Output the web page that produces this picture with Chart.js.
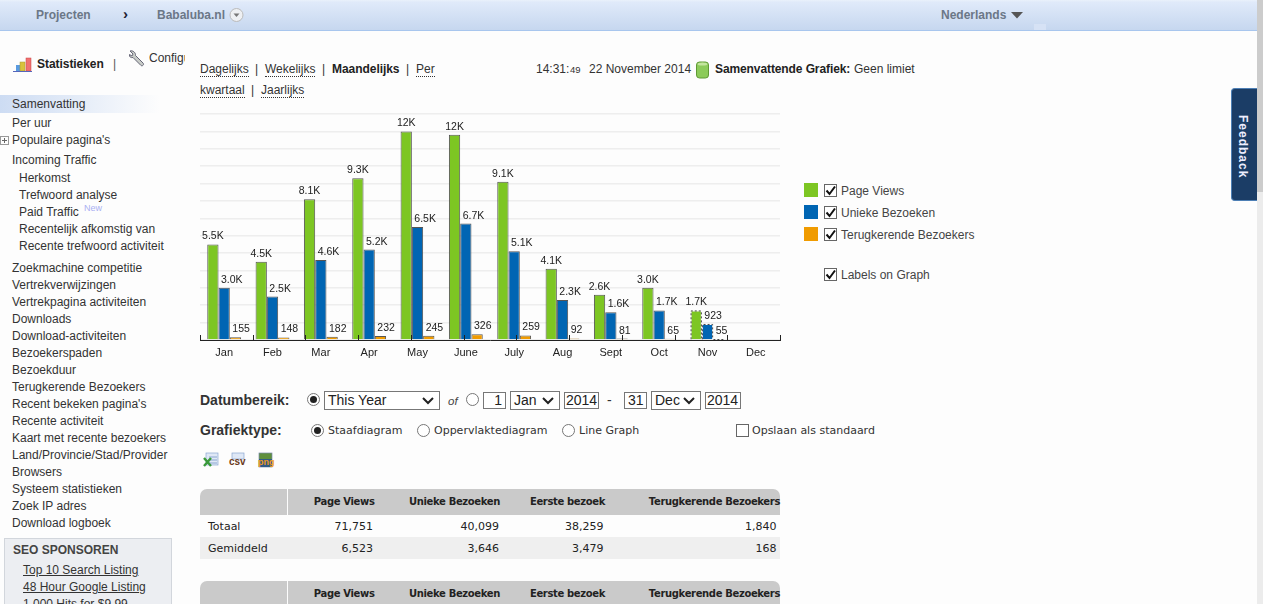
<!DOCTYPE html>
<html lang="nl"><head><meta charset="utf-8"><title>Statistieken</title>
<script src="https://cdn.jsdelivr.net/npm/chart.js@4/dist/chart.umd.js"></script>
<style>
html,body{margin:0;padding:0;width:1263px;height:604px;overflow:hidden;background:#fdfdfd;font-family:"Liberation Sans",Arial,sans-serif;color:#333}
#ui div,#ui span.a{position:absolute}
.t{position:absolute;white-space:nowrap;line-height:14px;font-size:12px;color:#333}
.box{position:absolute;box-sizing:border-box;border:1px solid #777;background:#fff}
.radio{position:absolute;box-sizing:border-box;width:13px;height:13px;border:1px solid #777;border-radius:50%;background:#fff}
.radio.on::after{content:"";position:absolute;left:2px;top:2px;width:7px;height:7px;border-radius:50%;background:#222}
.lnk{border-bottom:1px dotted #333}
#chart{position:absolute;left:190px;top:100px}
svg{position:absolute;overflow:visible}
</style></head><body>
<div id="ui"></div>
<canvas id="chart" width="600" height="265" style="width:600px;height:265px"></canvas>
<script>
// ---- chart data ----
const months = ["Jan","Feb","Mar","Apr","May","June","July","Aug","Sept","Oct","Nov","Dec"];
const pageViews = [5500,4500,8100,9300,12000,11800,9100,4100,2600,3000,1700,null];
const uniqueVisitors = [3000,2500,4600,5200,6500,6700,5100,2300,1600,1700,923,null];
const returningVisitors = [155,148,182,232,245,326,259,92,81,65,55,null];
const seriesNames = ["Page Views","Unieke Bezoeken","Terugkerende Bezoekers"];
const seriesColors = ["#7dc623","#0065b3","#f09b00"];
const currentMonth = 10;
// ---- table data ----
const tableHeads = ["Page Views","Unieke Bezoeken","Eerste bezoek","Terugkerende Bezoekers"];
const totals = ["71,751","40,099","38,259","1,840"];
const averages = ["6,523","3,646","3,479","168"];
const sideMenu = ["Samenvatting","Per uur","Populaire pagina's","Incoming Traffic","Herkomst","Trefwoord analyse","Paid Traffic","Recentelijk afkomstig van","Recente trefwoord activiteit","Zoekmachine competitie","Vertrekverwijzingen","Vertrekpagina activiteiten","Downloads","Download-activiteiten","Bezoekerspaden","Bezoekduur","Terugkerende Bezoekers","Recent bekeken pagina's","Recente activiteit","Kaart met recente bezoekers","Land/Provincie/Stad/Provider","Browsers","Systeem statistieken","Zoek IP adres","Download logboek"];

// ---- page furniture ----
const ui = document.getElementById('ui');
function rect(x,y,w,h,css){const d=document.createElement('div');d.style.cssText=`left:${x}px;top:${y}px;width:${w}px;height:${h}px;${css||''}`;ui.appendChild(d);return d;}
function t(x,cy,s,css){const d=document.createElement('div');d.className='t';d.textContent=s;d.style.cssText=`left:${x}px;top:${cy-7}px;${css||''}`;ui.appendChild(d);return d;}
function tr(rx,cy,s,css){const d=document.createElement('div');d.className='t';d.textContent=s;d.style.cssText=`right:${1263-rx}px;top:${cy-7}px;${css||''}`;ui.appendChild(d);return d;}
function svg(x,y,w,h,inner){const d=document.createElement('div');d.style.cssText=`left:${x}px;top:${y}px;width:${w}px;height:${h}px`;d.innerHTML=`<svg width="${w}" height="${h}" viewBox="0 0 ${w} ${h}">${inner}</svg>`;ui.appendChild(d);}
function box(x,y,w,h,s,align,pad){const d=rect(x,y,w,h,'');d.className='box';d.style.cssText+=`;font-size:14px;line-height:${h-2}px;color:#222;padding:0 ${pad==null?3:pad}px;text-align:${align||'left'}`;d.textContent=s;return d;}
function select(x,y,w,h,s){box(x,y,w,h,s);svg(x+w-18,y+6,12,8,'<path d="M1 1 L6 6 L11 1" fill="none" stroke="#222" stroke-width="2"/>');}
function radio(cx,cy,on){const d=rect(cx-6.5,cy-6.5,13,13,'');d.className='radio'+(on?' on':'');d.style.width='13px';d.style.height='13px';}
function check(x,y,on){const d=rect(x,y,13,13,'');d.className='box';d.style.borderColor='#666';if(on)svg(x+1,y+1,11,11,'<path d="M1.5 5.5 L4.5 9 L10 1.5" fill="none" stroke="#111" stroke-width="2"/>');}

// header
rect(0,0,1257,30,'background:linear-gradient(#eaf1fb 0,#e0eafa 7%,#c6d7ef 100%);border-bottom:1px solid #a8c6ee');
rect(1034,24,12,6,'background:#d6e2f5');
const hdr='font-weight:bold;color:#6b7787;font-size:12px';
t(36,15,'Projecten',hdr);
t(123,14,'›',"font-weight:bold;color:#223;font-size:15px");
t(157,15,'Babaluba.nl',hdr);
svg(229,7,16,16,'<circle cx="7.5" cy="8" r="6.5" fill="#eef0f3" stroke="#bbb"/><path d="M4.5 6.5 L10.5 6.5 L7.5 10 Z" fill="#777"/>');
t(941,15,'Nederlands',hdr);
svg(1011,12,12,7,'<path d="M0 0 H12 L6 6.5 Z" fill="#555"/>');
// scrollbar
rect(1257,0,6,192,'background:#ccc');
rect(1257,192,6,412,'background:#ececec');
// feedback
rect(1231,88,26,113,'box-sizing:border-box;background:#1b3d66;border:1px solid #4d7fb5;border-right:none;border-radius:4px 0 0 4px');
const fb=t(1243,145,'Feedback','font-weight:bold;color:#eef;font-size:12px;letter-spacing:1px');
fb.style.left='1243px';fb.style.transformOrigin='0 0';fb.style.transform='translate(-7px,-30px) rotate(90deg) translate(0,-14px)';
fb.style.top='145px';

// sidebar
svg(13,57,20,15,'<rect x="3" y="8" width="4" height="6" fill="#5a9be0"/><rect x="7" y="5" width="5" height="9" fill="#d8c23c" stroke="#a89a30" stroke-width=".5"/><rect x="13" y="1" width="5" height="13" fill="#f07070" stroke="#c44" stroke-width=".5"/><path d="M0 14.5 H19" stroke="#5566bb"/>');
t(37,64,'Statistieken','font-weight:bold;color:#222;letter-spacing:-.05px');
t(113,64,'|','color:#555');
svg(127,49,19,19,'<path d="M3 2 L6 5 L5 7 L2.5 5.5 C2 8 4 9 6 8.5 L14 16.5 C15.5 17.5 17.5 15.5 16 14 L8.5 6.5 C9 4 6 1 3 2 Z" fill="#c8ccc8" stroke="#667"/>');
const cfg=rect(149,50,36,16,'overflow:hidden');const c2=document.createElement('span');c2.className='t';c2.textContent='Configuratie';c2.style.cssText='left:0;top:1px';cfg.appendChild(c2);
rect(0,95,160,18,'background:linear-gradient(90deg,#cddcf3,#fdfdfd)');
const menuX=[12,12,12,12,19,19,19,19,19,12,12,12,12,12,12,12,12,12,12,12,12,12,12,12,12];
const menuY=[104,123,140,160,178,195,212,229,246,268,285,302,319,336,353,370,387,404,421,438,455,472,489,506,523];
sideMenu.forEach((s,i)=>t(menuX[i],menuY[i],s));
svg(0,136,9,9,'<rect x=".5" y=".5" width="8" height="8" fill="none" stroke="#999"/><path d="M2 4.5H7M4.5 2V7" stroke="#666"/>');
t(84,208,'New','font-size:9px;color:#aab0f2');
rect(4,538,168,70,'box-sizing:border-box;background:#eceef2;border:1px solid #d2d6dc');
t(13,550,'SEO SPONSOREN','font-weight:bold;color:#444');
t(23,570,'Top 10 Search Listing','text-decoration:underline');
t(23,587,'48 Hour Google Listing','text-decoration:underline');
t(23,604,'1,000 Hits for $9.99','text-decoration:underline');

// top links
const lk=(x,y,s)=>{const d=t(x,y,s);d.classList.add('lnk');d.style.top=(y-7)+'px';};
lk(200,69,'Dagelijks');t(255,69,'|');lk(265,69,'Wekelijks');t(322,69,'|');
t(332,69,'Maandelijks','font-weight:bold;color:#222;letter-spacing:-.05px');t(406,69,'|');lk(416,69,'Per');
lk(200,90,'kwartaal');t(251,90,'|');lk(261,90,'Jaarlijks');
t(536,69,'14:31:');t(570,70,'49','font-size:9.5px');t(589,69,'22 November 2014');
svg(696,61,13,18,'<rect x=".5" y="1" width="12" height="16" rx="3" fill="#8ccb5a" stroke="#5f9a35"/><ellipse cx="6.5" cy="3" rx="5" ry="1.6" fill="#c3e59e"/>');
t(715,69,'Samenvattende Grafiek:','font-weight:bold;color:#222;letter-spacing:-.1px');t(854,69,'Geen limiet');

// legend
[183,205,227].forEach((y,i)=>{rect(804,y,14,14,'background:'+seriesColors[i]);check(824,y+1,true);t(841,y+8,seriesNames[i],'color:#444');});
check(824,268,true);t(841,275,'Labels on Graph','color:#444');

// date range
const lab='font-weight:bold;font-size:14px;color:#333';
t(200,400,'Datumbereik:',lab);t(200,430,'Grafiektype:',lab);
radio(313.5,399.5,true);select(324,391,116,19,'This Year');
t(448,401,'of','font-style:italic;font-size:11.5px;color:#444');radio(472.5,399.5,false);
box(483,392,23,17,'1','right');select(510,391,50,19,'Jan');box(564,392,35,17,'2014','left',1);
t(607,400,'-','font-size:14px');box(624,392,23,17,'31','right');select(651,391,50,19,'Dec');box(705,392,36,17,'2014','left',1);
const sm='font-family:\"DejaVu Sans\";font-size:11px;color:#333';
radio(317.5,430,true);t(328,431,'Staafdiagram',sm);
radio(423.5,430,false);t(434,431,'Oppervlaktediagram',sm);
radio(568,430,false);t(579,431,'Line Graph',sm);
check(736,424,false);t(752,431,'Opslaan als standaard',sm);
// export icons
svg(203,452,16,16,'<rect x="3" y="1" width="12" height="12" fill="#dfe8f6" stroke="#8aa6d0" stroke-width=".7"/><path d="M6 5H14M6 8H14M6 11H14" stroke="#8aa6d0"/><path d="M1 6 L8 14 M8 6 L1 14" stroke="#3a9a3a" stroke-width="2.4"/>');
svg(229,452,17,16,'<rect x="3" y="1" width="12" height="6" fill="#dfe8f6" stroke="#8aa6d0" stroke-width=".7"/><text x="0" y="13" font-size="10" font-weight="bold" font-family="Liberation Sans" fill="#6b3a1a">csv</text>');
svg(257,452,16,16,'<rect x="2" y="1" width="13" height="14" fill="#5f8f3c" stroke="#7a8aa8" stroke-width=".7"/><rect x="2" y="7" width="13" height="8" fill="#2f5a86"/><text x="1" y="13" font-size="9" font-weight="bold" font-family="Liberation Sans" fill="#f09b20">png</text>');

// tables
function header(y,h){
  rect(200,y,87,h,'background:#cacaca;border-radius:7px 0 0 0');
  rect(288,y,492,h,'background:#cacaca;border-radius:0 7px 0 0');
  const rights=[374.5,500,605,780];
  tableHeads.forEach((s,i)=>tr(rights[i],y+13,s,'font-family:\"DejaVu Sans\";font-weight:bold;font-size:10px;color:#222;letter-spacing:-.35px'));
}
header(489,26);
const vr=[373,499,603.5,776.5],cell='font-family:\"DejaVu Sans\";font-size:11px;color:#222';
t(208,527,'Totaal',cell);totals.forEach((s,i)=>tr(vr[i],527,s,cell));
rect(200,537,580,22,'background:#efefef');
t(208,549,'Gemiddeld',cell);averages.forEach((s,i)=>tr(vr[i],549,s,cell));
header(581,26);

// ---- chart ----
const kLabel = v => v>=10000 ? Math.round(v/1000)+'K' : v>=1000 ? (v/1000).toFixed(1)+'K' : String(v);
const labelDx=[0,2.5,2.5];
const overlay={id:'overlay',afterDatasetsDraw(c){
  const g=c.ctx,a=c.chartArea;
  g.save();
  // axis tick marks
  g.strokeStyle='#222';g.lineWidth=1;
  for(let i=0;i<=11;i++){const x=Math.round(a.left+i*(a.right-a.left)/11)+.5;g.beginPath();g.moveTo(x,a.bottom);g.lineTo(x,a.bottom-5);g.stroke();}
  // dashed outline on the running month
  g.setLineDash([2,2]);g.strokeStyle='#444';
  c.data.datasets.forEach((ds,d)=>{const b=c.getDatasetMeta(d).data[currentMonth];const p=b.getProps(['x','y','width','base'],true);
    const l=p.x-p.width/2+.5,r=p.x+p.width/2-.5;g.beginPath();g.moveTo(l,p.base);g.lineTo(l,p.y+.5);g.lineTo(r,p.y+.5);g.lineTo(r,p.base);g.stroke();});
  g.setLineDash([]);
  // value labels
  g.font='10.5px "Liberation Sans"';g.fillStyle='#222';g.textBaseline='alphabetic';
  c.data.datasets.forEach((ds,d)=>{c.getDatasetMeta(d).data.forEach((b,i)=>{
    const v=ds.data[i];if(v==null)return;const p=b.getProps(['x','y','width'],true);
    if(d===0){g.textAlign='center';g.fillText(kLabel(v),p.x,p.y-5);}
    else{g.textAlign='left';g.fillText(kLabel(v),p.x-p.width/2+labelDx[d],p.y-5);}
  });});
  g.restore();
}};
const seriesData=[pageViews,uniqueVisitors,returningVisitors];
new Chart(document.getElementById('chart'),{
  type:'bar',
  data:{labels:months,datasets:seriesData.map((d,i)=>({label:seriesNames[i],data:d,backgroundColor:seriesColors[i],
    borderColor:months.map((m,j)=>j===currentMonth?'rgba(0,0,0,0)':'#555'),borderWidth:1,borderSkipped:'bottom'}))},
  options:{responsive:false,animation:false,devicePixelRatio:1,
    layout:{padding:{left:10,right:10,top:14,bottom:0}},
    plugins:{legend:{display:false},tooltip:{enabled:false},title:{display:false}},
    datasets:{bar:{barPercentage:1,categoryPercentage:0.7}},
    scales:{
      x:{grid:{display:false,drawTicks:false,tickLength:0},border:{display:true,color:'#222',width:1},
         afterFit(s){s.height=25;},
         ticks:{color:'#222',font:{family:'"Liberation Sans"',size:11},padding:6,maxRotation:0,autoSkip:false}},
      y:{min:0,max:13000,ticks:{stepSize:1000,display:false},afterFit(s){s.width=0;},
         grid:{color:'#eeeeee',lineWidth:1.5,drawTicks:false},border:{display:false}}
    }},
  plugins:[overlay]
});
</script>
</body></html>
